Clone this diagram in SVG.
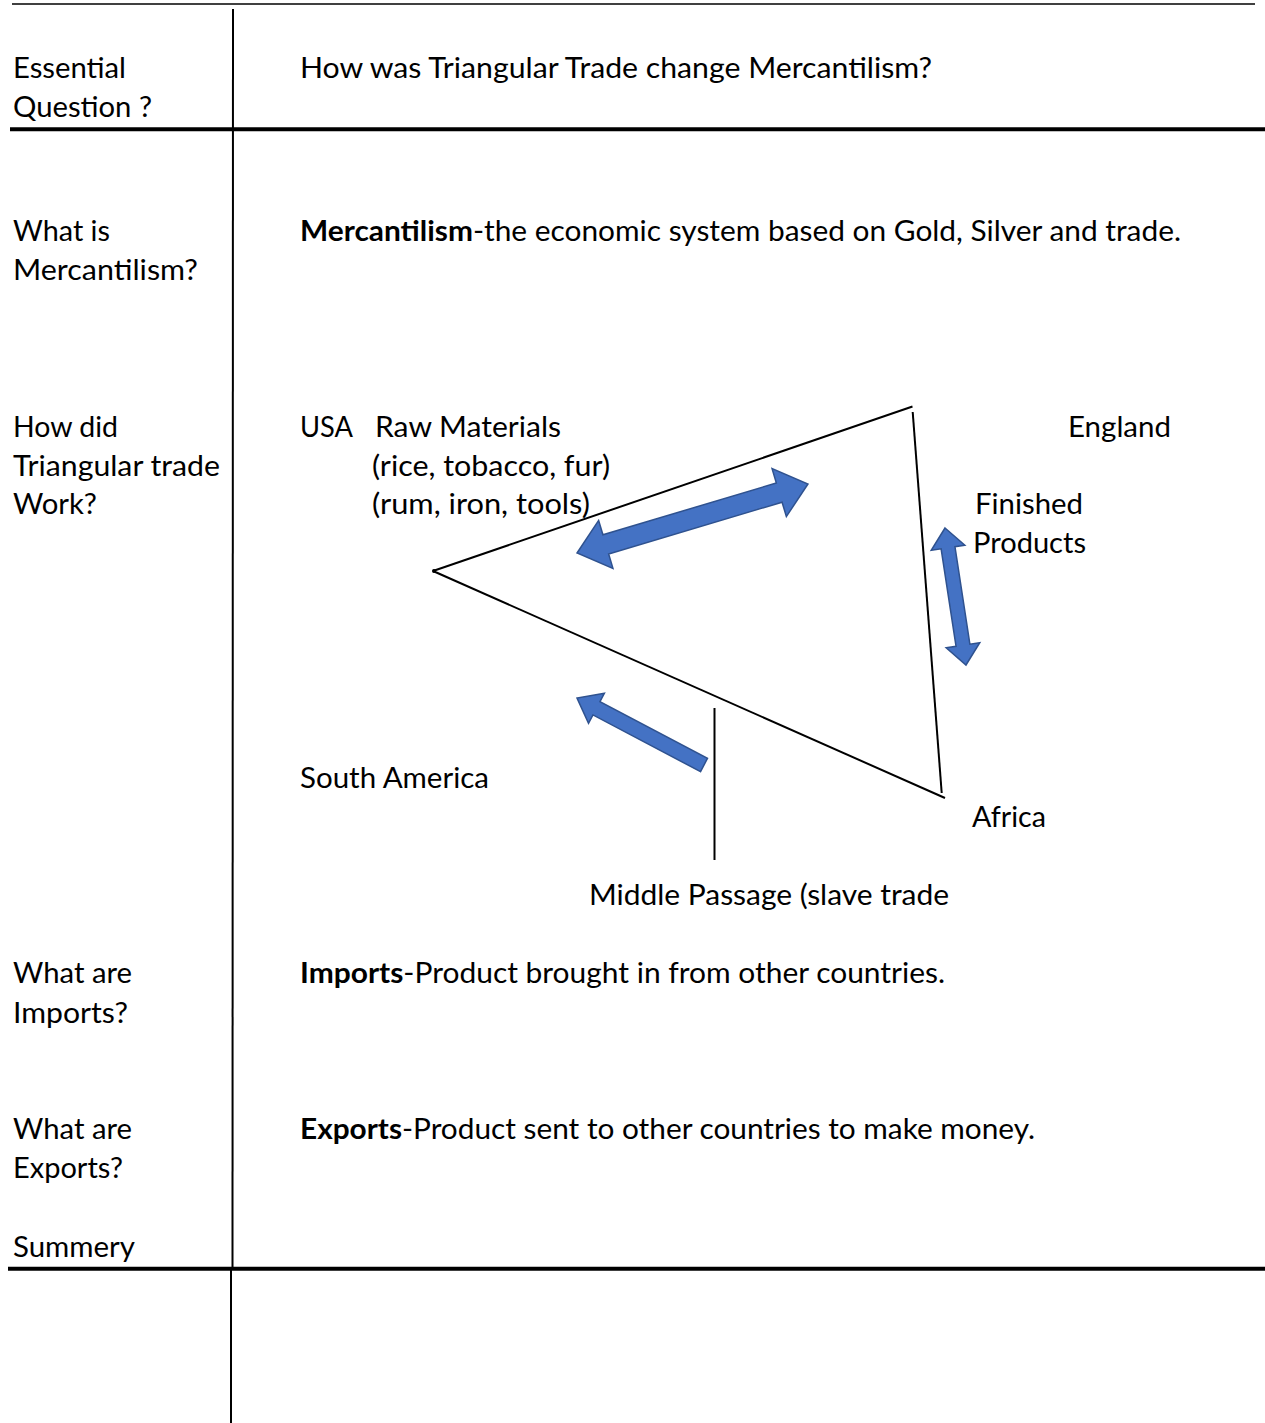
<svg xmlns="http://www.w3.org/2000/svg" width="1265" height="1423" viewBox="0 0 1265 1423">
<style>
text{font-family:Lato,"Open Sans","Liberation Sans",sans-serif;font-size:29px;fill:#000}
.b{font-weight:bold}
.rule{stroke:#000;fill:none}
.arrow{fill:#4472C4;stroke:#2F528F;stroke-width:1.5;stroke-linejoin:miter}
</style>
<rect width="1265" height="1423" fill="#fff"/>
<g id="grid">
<line class="rule" x1="12" y1="4" x2="1255" y2="4" stroke-width="1.6"/>
<line class="rule" x1="233" y1="9" x2="232.5" y2="1268" stroke-width="2"/>
<line class="rule" x1="231" y1="1268" x2="231" y2="1423" stroke-width="2"/>
<line class="rule" x1="10" y1="129.3" x2="1265" y2="129.3" stroke-width="4"/>
<line class="rule" x1="8" y1="1268.7" x2="1265" y2="1268.7" stroke-width="4"/>
</g>
<g id="labels">
<text x="13" y="78" textLength="113" lengthAdjust="spacingAndGlyphs">Essential</text>
<text x="13" y="117" textLength="139" lengthAdjust="spacingAndGlyphs">Question ?</text>
<text x="300" y="78" textLength="632" lengthAdjust="spacingAndGlyphs">How was Triangular Trade change Mercantilism?</text>
<text x="13" y="241" textLength="97" lengthAdjust="spacingAndGlyphs">What is</text>
<text x="13" y="280" textLength="185" lengthAdjust="spacingAndGlyphs">Mercantilism?</text>
<text x="300" y="241" textLength="881" lengthAdjust="spacingAndGlyphs"><tspan class="b">Mercantilism</tspan>-the economic system based on Gold, Silver and trade.</text>
<text x="13" y="437" textLength="105" lengthAdjust="spacingAndGlyphs">How did</text>
<text x="13" y="476" textLength="207" lengthAdjust="spacingAndGlyphs">Triangular trade</text>
<text x="13" y="514" textLength="84" lengthAdjust="spacingAndGlyphs">Work?</text>
<text x="13" y="983" textLength="119" lengthAdjust="spacingAndGlyphs">What are</text>
<text x="13" y="1023" textLength="115" lengthAdjust="spacingAndGlyphs">Imports?</text>
<text x="300" y="983" textLength="645" lengthAdjust="spacingAndGlyphs"><tspan class="b">Imports</tspan>-Product brought in from other countries.</text>
<text x="13" y="1139" textLength="119" lengthAdjust="spacingAndGlyphs">What are</text>
<text x="13" y="1178" textLength="110" lengthAdjust="spacingAndGlyphs">Exports?</text>
<text x="300" y="1139" textLength="735" lengthAdjust="spacingAndGlyphs"><tspan class="b">Exports</tspan>-Product sent to other countries to make money.</text>
<text x="13" y="1257" textLength="122" lengthAdjust="spacingAndGlyphs">Summery</text>
</g>
<g id="node-usa">
<text x="300" y="437" textLength="53" lengthAdjust="spacingAndGlyphs">USA</text>
<text x="375" y="437" textLength="186" lengthAdjust="spacingAndGlyphs">Raw Materials</text>
<text x="372" y="476" textLength="238" lengthAdjust="spacingAndGlyphs">(rice, tobacco, fur)</text>
<text x="372" y="514" textLength="218" lengthAdjust="spacingAndGlyphs">(rum, iron, tools)</text>
</g>
<g id="node-england">
<text x="1068" y="437" textLength="103" lengthAdjust="spacingAndGlyphs">England</text>
</g>
<g id="node-finished">
<text x="975" y="514" textLength="108" lengthAdjust="spacingAndGlyphs">Finished</text>
<text x="973" y="553" textLength="113" lengthAdjust="spacingAndGlyphs">Products</text>
</g>
<g id="node-south-america">
<text x="300" y="788" textLength="189" lengthAdjust="spacingAndGlyphs">South America</text>
</g>
<g id="node-africa">
<text x="972" y="827" textLength="74" lengthAdjust="spacingAndGlyphs">Africa</text>
</g>
<g id="node-middle-passage">
<text x="589" y="905" textLength="360" lengthAdjust="spacingAndGlyphs">Middle Passage (slave trade</text>
</g>
<g id="connectors">
<line class="rule" x1="433" y1="571" x2="912.5" y2="406.5" stroke-width="2"/>
<line class="rule" x1="912.7" y1="412" x2="941.7" y2="793" stroke-width="2"/>
<line class="rule" x1="433" y1="571" x2="945" y2="798" stroke-width="2"/>
<circle cx="434" cy="571" r="2" fill="#000"/>
<line class="rule" x1="714.5" y1="708" x2="714.5" y2="860" stroke-width="2"/>
<path class="arrow" transform="translate(692.5 518.5) rotate(-16.63)" d="M-120.5,0 L-90.5,-25 L-90.5,-10 L90.5,-10 L90.5,-25 L120.5,0 L90.5,25 L90.5,10 L-90.5,10 L-90.5,25 Z"/>
<path class="arrow" transform="translate(955.5 596.5) rotate(81.29)" d="M-69.3,0 L-49.3,-17 L-49.3,-7 L49.3,-7 L49.3,-17 L69.3,0 L49.3,17 L49.3,7 L-49.3,7 L-49.3,17 Z"/>
<path class="arrow" transform="translate(640.5 731.5) rotate(-152.18)" d="M-71.8,-7.5 L49.8,-7.5 L49.8,-17 L71.8,0 L49.8,17 L49.8,7.5 L-71.8,7.5 Z"/>
</g>
</svg>
